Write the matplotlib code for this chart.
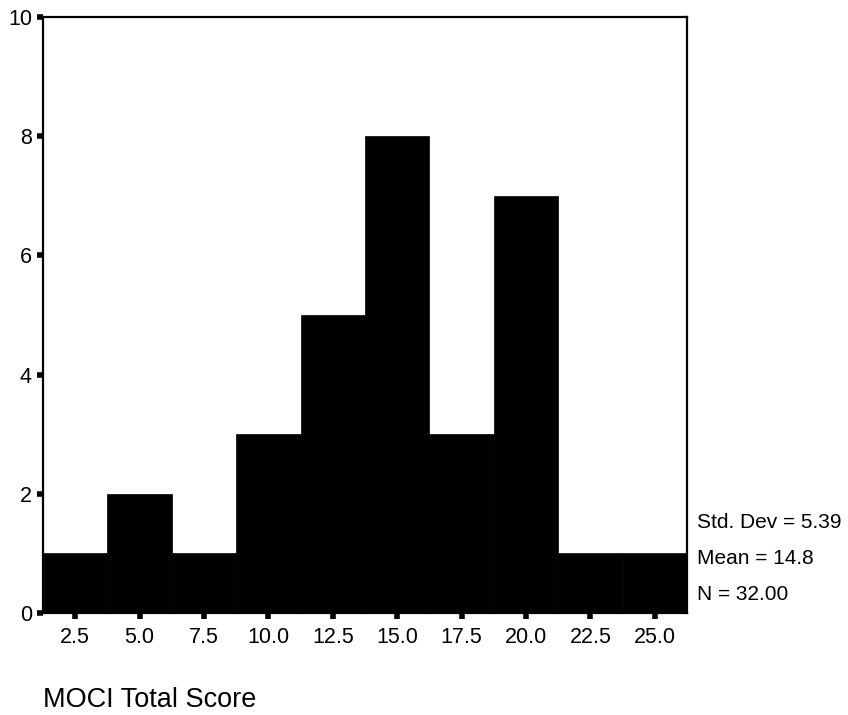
import numpy as np
import matplotlib
matplotlib.use("Agg")
import matplotlib.pyplot as plt

plt.rcParams["font.family"] = ["Liberation Sans", "DejaVu Sans"]

# bin centres and counts
centers = [2.5, 5.0, 7.5, 10.0, 12.5, 15.0, 17.5, 20.0, 22.5, 25.0]
counts = [1, 2, 1, 3, 5, 8, 3, 7, 1, 1]
bin_width = 2.5
tick_labels = ["2.5", "5.0", "7.5", "10.0", "12.5", "15.0", "17.5", "20.0", "22.5", "25.0"]
stats = ["Std. Dev = 5.39", "Mean = 14.8", "N = 32.00"]
xlabel = "MOCI Total Score"

fig = plt.figure(figsize=(8.48, 7.15), dpi=100)
ax = fig.add_axes([43 / 848, 1 - 613 / 715, (687 - 43) / 848, (613 - 17) / 715])

ax.bar(centers, counts, width=bin_width, color="black", edgecolor="black", linewidth=0.5)

ax.set_xlim(centers[0] - bin_width / 2, centers[-1] + bin_width / 2)
ax.set_ylim(0, 10)
ax.set_xticks(centers)
ax.set_xticklabels(tick_labels)
ax.set_yticks([0, 2, 4, 6, 8, 10])
ax.tick_params(direction="out", length=4, width=4, labelsize=15.5, pad=6)
ax.tick_params(axis="y", pad=4)
for s in ax.spines.values():
    s.set_linewidth(1.6)

# summary statistics to the right of the plot
for i, t in enumerate(stats):
    fig.text(697 / 848, 1 - (522 + 36 * i) / 715, t, fontsize=15, va="center", ha="left")

fig.text(43 / 848, 1 - 700 / 715, xlabel, fontsize=19.5, va="center", ha="left")

fig.savefig("out.png", dpi=100)
